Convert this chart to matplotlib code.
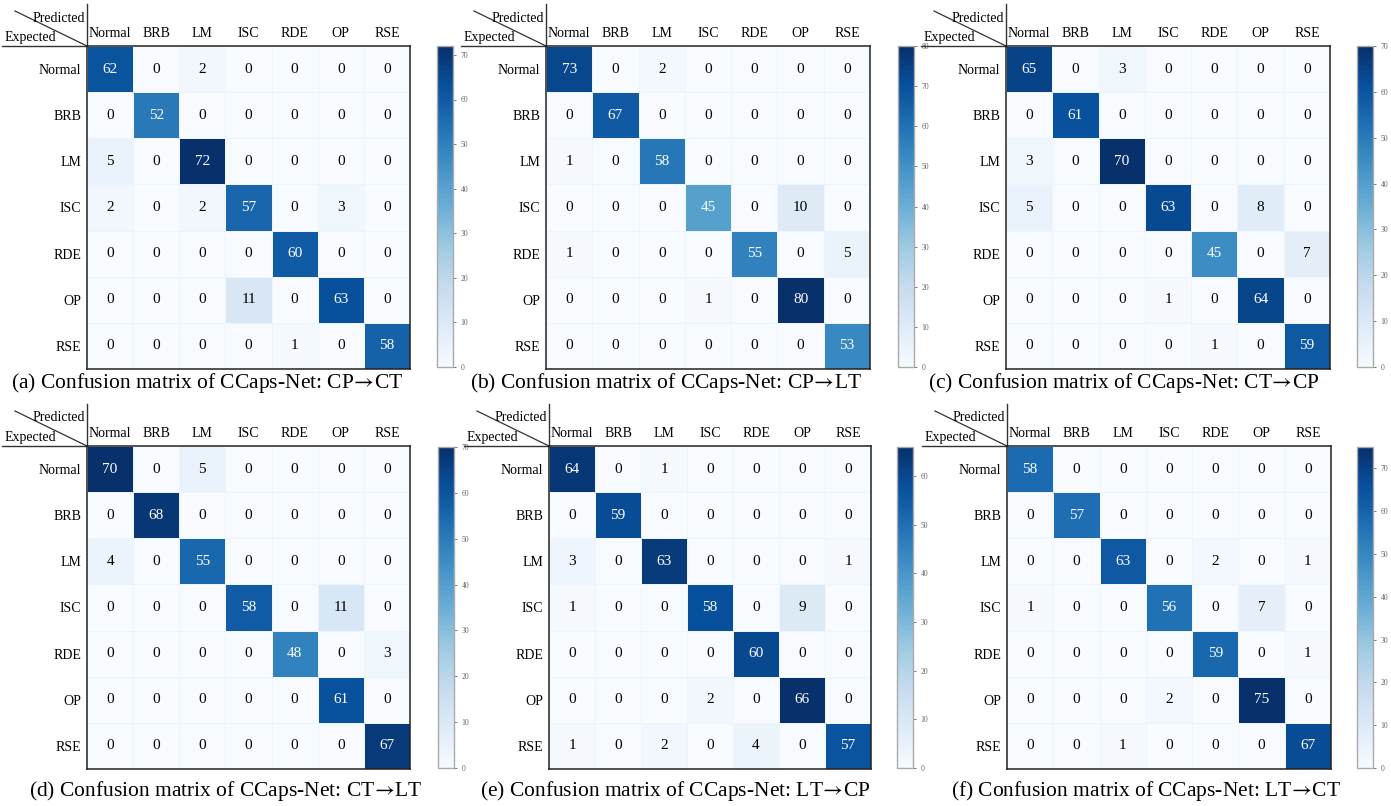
import numpy as np
import matplotlib
matplotlib.use("Agg")
import matplotlib.pyplot as plt
from matplotlib.lines import Line2D

plt.rcParams['font.family'] = ['Liberation Serif', 'DejaVu Serif']
plt.rcParams['mathtext.fontset'] = 'stix'

labels = ["Normal", "BRB", "LM", "ISC", "RDE", "OP", "RSE"]

cm_a = [[62, 0, 2, 0, 0, 0, 0],
        [0, 52, 0, 0, 0, 0, 0],
        [5, 0, 72, 0, 0, 0, 0],
        [2, 0, 2, 57, 0, 3, 0],
        [0, 0, 0, 0, 60, 0, 0],
        [0, 0, 0, 11, 0, 63, 0],
        [0, 0, 0, 0, 1, 0, 58]]
cm_b = [[73, 0, 2, 0, 0, 0, 0],
        [0, 67, 0, 0, 0, 0, 0],
        [1, 0, 58, 0, 0, 0, 0],
        [0, 0, 0, 45, 0, 10, 0],
        [1, 0, 0, 0, 55, 0, 5],
        [0, 0, 0, 1, 0, 80, 0],
        [0, 0, 0, 0, 0, 0, 53]]
cm_c = [[65, 0, 3, 0, 0, 0, 0],
        [0, 61, 0, 0, 0, 0, 0],
        [3, 0, 70, 0, 0, 0, 0],
        [5, 0, 0, 63, 0, 8, 0],
        [0, 0, 0, 0, 45, 0, 7],
        [0, 0, 0, 1, 0, 64, 0],
        [0, 0, 0, 0, 1, 0, 59]]
cm_d = [[70, 0, 5, 0, 0, 0, 0],
        [0, 68, 0, 0, 0, 0, 0],
        [4, 0, 55, 0, 0, 0, 0],
        [0, 0, 0, 58, 0, 11, 0],
        [0, 0, 0, 0, 48, 0, 3],
        [0, 0, 0, 0, 0, 61, 0],
        [0, 0, 0, 0, 0, 0, 67]]
cm_e = [[64, 0, 1, 0, 0, 0, 0],
        [0, 59, 0, 0, 0, 0, 0],
        [3, 0, 63, 0, 0, 0, 1],
        [1, 0, 0, 58, 0, 9, 0],
        [0, 0, 0, 0, 60, 0, 0],
        [0, 0, 0, 2, 0, 66, 0],
        [1, 0, 2, 0, 4, 0, 57]]
cm_f = [[58, 0, 0, 0, 0, 0, 0],
        [0, 57, 0, 0, 0, 0, 0],
        [0, 0, 63, 0, 2, 0, 1],
        [1, 0, 0, 56, 0, 7, 0],
        [0, 0, 0, 0, 59, 0, 1],
        [0, 0, 0, 2, 0, 75, 0],
        [0, 0, 1, 0, 0, 0, 67]]

captions = ["(a) Confusion matrix of CCaps-Net: CP$\\!\\rightarrow\\!$CT",
            "(b) Confusion matrix of CCaps-Net: CP$\\!\\rightarrow\\!$LT",
            "(c) Confusion matrix of CCaps-Net: CT$\\!\\rightarrow\\!$CP",
            "(d) Confusion matrix of CCaps-Net: CT$\\!\\rightarrow\\!$LT",
            "(e) Confusion matrix of CCaps-Net: LT$\\!\\rightarrow\\!$CP",
            "(f) Confusion matrix of CCaps-Net: LT$\\!\\rightarrow\\!$CT"]

W, H = 1391, 806
fig = plt.figure(figsize=(W / 100, H / 100), dpi=100)

def px_axes(x0, y0, x1, y1):
    # pixel box (top-left origin) -> figure axes
    return fig.add_axes([x0 / W, 1 - y1 / H, (x1 - x0) / W, (y1 - y0) / H])

# layout in pixels: heatmap box, colorbar box, caption (x center, y)
layout = [
    ((87, 46, 410, 369), (437, 46, 453, 367), (207, 383)),
    ((546, 46, 870, 369), (898, 46, 914, 367), (666, 383)),
    ((1006, 46, 1330, 369), (1357, 46, 1373, 367), (1124, 383)),
    ((87, 446, 410, 769), (438, 447, 454, 768), (226, 791)),
    ((549, 446, 871, 769), (897, 447, 913, 768), (675, 791)),
    ((1007, 446, 1331, 769), (1357, 447, 1373, 768), (1146, 791)),
]

matrices = [cm_a, cm_b, cm_c, cm_d, cm_e, cm_f]

for cm, caption, (hbox, cbox, cap) in zip(matrices, captions, layout):
    cm = np.array(cm)
    vmax = cm.max()
    ax = px_axes(*hbox)
    mesh = ax.pcolormesh(cm, cmap="Blues", vmin=0, vmax=vmax,
                         edgecolors="#eef4fb", linewidth=0.6)
    ax.set_xlim(0, 7)
    ax.set_ylim(7, 0)
    for i in range(7):
        for j in range(7):
            v = cm[i, j]
            ax.text(j + 0.5, i + 0.5, str(v), ha="center", va="center",
                    fontsize=11, color="white" if v > vmax / 2 else "black")
    ax.xaxis.tick_top()
    ax.set_xticks(np.arange(7) + 0.5)
    ax.set_xticklabels(labels, fontsize=10)
    ax.set_yticks(np.arange(7) + 0.5)
    ax.set_yticklabels(labels, fontsize=10)
    ax.tick_params(length=0, pad=4)
    for s in ax.spines.values():
        s.set_linewidth(1.1)
        s.set_color("#222222")

    # corner header: Predicted / Expected with slash
    w = hbox[2] - hbox[0]
    h = hbox[3] - hbox[1]
    left_ext = -min(hbox[0] - 2, 85) / w
    ax.add_line(Line2D([left_ext, 0], [1, 1], transform=ax.transAxes,
                       color="#333333", lw=1.0, clip_on=False))
    ax.add_line(Line2D([0, 0], [1, 1 + 42 / h], transform=ax.transAxes,
                       color="#333333", lw=1.0, clip_on=False))
    ax.add_line(Line2D([-72 / w, 0], [1 + 35 / h, 1], transform=ax.transAxes,
                       color="#333333", lw=0.9, clip_on=False))
    ax.text(-2 / w, 1 + 28 / h, "Predicted", transform=ax.transAxes,
            ha="right", va="center", fontsize=10)
    ax.text(left_ext + 3 / w, 1 + 8 / h, "Expected", transform=ax.transAxes,
            ha="left", va="center", fontsize=10)

    cax = px_axes(*cbox)
    cb = fig.colorbar(mesh, cax=cax, ticks=np.arange(0, vmax + 1, 10))
    cb.outline.set_edgecolor("#aaaaaa")
    cb.outline.set_linewidth(1.0)
    cax.tick_params(labelsize=5.5, colors="#666666", length=2, width=0.6)

    fig.text(cap[0] / W, 1 - cap[1] / H, caption, ha="center", va="center",
             fontsize=15.5)

fig.savefig("out.png", dpi=100)
